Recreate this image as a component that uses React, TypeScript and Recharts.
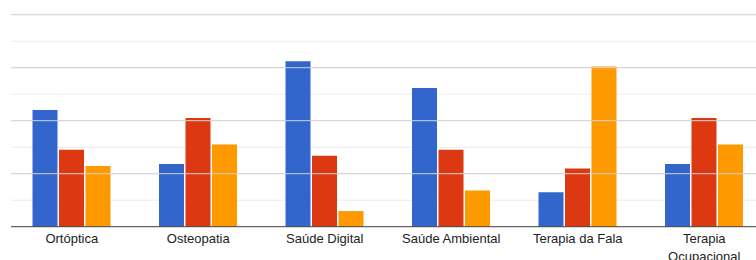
import React from "react";
import { BarChart, Bar, XAxis, YAxis, CartesianGrid, ReferenceLine } from "recharts";

const categories = ["Ortóptica", "Osteopatia", "Saúde Digital", "Saúde Ambiental", "Terapia da Fala", "Terapia Ocupacional"];
const seriesA = [4.4, 2.37, 6.24, 5.23, 1.3, 2.37];
const seriesB = [2.9, 4.1, 2.68, 2.9, 2.2, 4.1];
const seriesC = [2.29, 3.1, 0.59, 1.37, 6.05, 3.1];
const yTicks = [0, 1, 2, 3, 4, 5, 6, 7, 8];
const majorTicks = [2, 4, 6, 8];

const data = categories.map((c, i) => ({ name: c, a: seriesA[i], b: seriesB[i], c: seriesC[i] }));

const wrapLabel = (s: string): string[] => {
  if (s === "Terapia Ocupacional") return ["Terapia", "Ocupacional"];
  return [s];
};

const Tick = (props: any) => {
  const { x, y, payload } = props;
  const lines = wrapLabel(payload.value);
  return (
    <text x={x} y={y} textAnchor="middle" fill="#222" fontSize={13} fontFamily="Arial, 'Liberation Sans', sans-serif">
      {lines.map((l, i) => (
        <tspan key={i} x={x} y={y + 8 + i * 18.5}>{l}</tspan>
      ))}
    </text>
  );
};

export default function App() {
  return (
    <div style={{ position: "absolute", left: 0, top: 0, width: 756, height: 260, overflow: "hidden", background: "#fff" }}>
      <BarChart
        width={768}
        height={260}
        data={data}
        margin={{ top: 14.7, right: 0.5, bottom: 0, left: 11 }}
        barSize={25}
        barGap={1.5}
      >
        <CartesianGrid horizontal={true} vertical={false} stroke="#ebebeb" />
        {majorTicks.map((t) => (
          <ReferenceLine key={t} y={t} stroke="#d4d4d4" strokeWidth={1} />
        ))}
        <YAxis hide domain={[0, 8]} ticks={yTicks} type="number" />
        <XAxis
          dataKey="name"
          height={33.3}
          padding={{ left: -2.5, right: 0 }}
          tickLine={false}
          axisLine={{ stroke: "#444" }}
          tick={<Tick />}
          interval={0}
        />
        <Bar dataKey="a" fill="#3366cc" isAnimationActive={false} />
        <Bar dataKey="b" fill="#dc3912" isAnimationActive={false} />
        <Bar dataKey="c" fill="#ff9900" isAnimationActive={false} />
      </BarChart>
    </div>
  );
}
